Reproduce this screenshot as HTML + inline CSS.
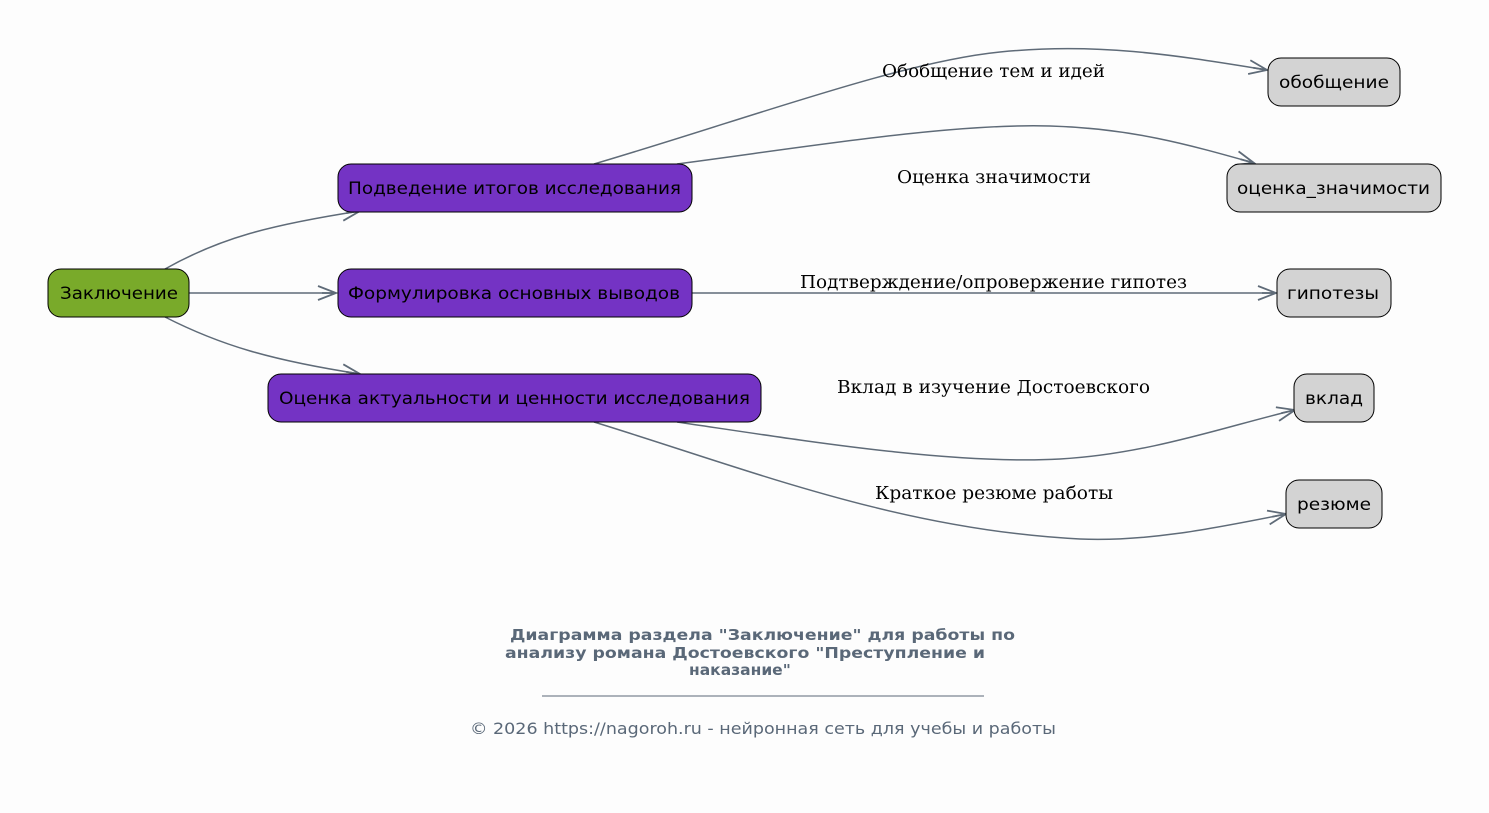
<!DOCTYPE html>
<html><head><meta charset="utf-8"><style>
html,body{margin:0;padding:0;background:#fdfdfd;}
svg{display:block;}
.n{font-family:"DejaVu Sans","Liberation Sans",sans-serif;font-size:17px;fill:#000;}
.e{font-family:"DejaVu Serif","Liberation Serif",serif;font-size:17.5px;fill:#000;}
.t{font-family:"DejaVu Sans","Liberation Sans",sans-serif;font-size:15.5px;font-weight:bold;fill:#5a6878;}
.f{font-family:"DejaVu Sans","Liberation Sans",sans-serif;font-size:16px;fill:#5a6878;}
path.c{fill:none;stroke:#5f6b78;stroke-width:1.5;}
</style></head><body>
<svg width="1489" height="813" viewBox="0 0 1489 813" xmlns="http://www.w3.org/2000/svg">
<defs>
<marker id="a" markerUnits="userSpaceOnUse" markerWidth="24" markerHeight="16" refX="20" refY="8" orient="auto">
<path d="M2,1 L20,8 L2,15 M20,8 L6,8" fill="none" stroke="#5f6b78" stroke-width="1.8"/>
</marker>
</defs>
<rect width="1489" height="813" fill="#fdfdfd"/>
<path class="c" marker-end="url(#a)" d="M165,269 C220,238 270,225 360,211"/>
<path class="c" marker-end="url(#a)" d="M189,293 L336,293"/>
<path class="c" marker-end="url(#a)" d="M165,317 C220,345 270,360 360,374"/>
<path class="c" marker-end="url(#a)" d="M594,164 C750,118 900,62 1000,52 C1100,42 1180,56 1267,70"/>
<path class="c" marker-end="url(#a)" d="M677,164 C800,148 950,123 1050,126 C1130,128 1190,145 1254,163"/>
<path class="c" marker-end="url(#a)" d="M692,293 L1276,293"/>
<path class="c" marker-end="url(#a)" d="M677,422 C800,440 950,465 1060,459 C1150,454 1230,425 1295,410"/>
<path class="c" marker-end="url(#a)" d="M594,422 C750,470 900,530 1080,539 C1150,542 1220,527 1286,514"/>
<rect x="48" y="269" width="141" height="48" rx="13" fill="#79aa2a" stroke="#000"/>
<text class="n" x="60" y="299" textLength="118" lengthAdjust="spacingAndGlyphs">Заключение</text>
<rect x="338" y="164" width="354" height="48" rx="13" fill="#7433c4" stroke="#000"/>
<text class="n" x="348" y="194" textLength="333" lengthAdjust="spacingAndGlyphs">Подведение итогов исследования</text>
<rect x="338" y="269" width="354" height="48" rx="13" fill="#7433c4" stroke="#000"/>
<text class="n" x="348" y="299" textLength="332" lengthAdjust="spacingAndGlyphs">Формулировка основных выводов</text>
<rect x="268" y="374" width="493" height="48" rx="13" fill="#7433c4" stroke="#000"/>
<text class="n" x="279" y="404" textLength="471" lengthAdjust="spacingAndGlyphs">Оценка актуальности и ценности исследования</text>
<rect x="1268" y="58" width="132" height="48" rx="13" fill="#d3d3d3" stroke="#000"/>
<text class="n" x="1279" y="88" textLength="110" lengthAdjust="spacingAndGlyphs">обобщение</text>
<rect x="1227" y="164" width="214" height="48" rx="13" fill="#d3d3d3" stroke="#000"/>
<text class="n" x="1237" y="194" textLength="193" lengthAdjust="spacingAndGlyphs">оценка_значимости</text>
<rect x="1277" y="269" width="114" height="48" rx="13" fill="#d3d3d3" stroke="#000"/>
<text class="n" x="1287" y="299" textLength="92" lengthAdjust="spacingAndGlyphs">гипотезы</text>
<rect x="1294" y="374" width="80" height="48" rx="13" fill="#d3d3d3" stroke="#000"/>
<text class="n" x="1305" y="404" textLength="58" lengthAdjust="spacingAndGlyphs">вклад</text>
<rect x="1286" y="480" width="96" height="48" rx="13" fill="#d3d3d3" stroke="#000"/>
<text class="n" x="1297" y="510" textLength="74" lengthAdjust="spacingAndGlyphs">резюме</text>
<text class="e" x="882" y="77" textLength="223" lengthAdjust="spacingAndGlyphs">Обобщение тем и идей</text>
<text class="e" x="897" y="183" textLength="194" lengthAdjust="spacingAndGlyphs">Оценка значимости</text>
<text class="e" x="800" y="288" textLength="387" lengthAdjust="spacingAndGlyphs">Подтверждение/опровержение гипотез</text>
<text class="e" x="837" y="393" textLength="313" lengthAdjust="spacingAndGlyphs">Вклад в изучение Достоевского</text>
<text class="e" x="875" y="499" textLength="238" lengthAdjust="spacingAndGlyphs">Краткое резюме работы</text>
<text class="t" x="510" y="640" textLength="505" lengthAdjust="spacingAndGlyphs">Диаграмма раздела "Заключение" для работы по</text>
<text class="t" x="505" y="658" textLength="480" lengthAdjust="spacingAndGlyphs">анализу романа Достоевского "Преступление и</text>
<text class="t" x="689" y="675">наказание"</text>
<line x1="542" y1="696" x2="984" y2="696" stroke="#5a6878" stroke-width="1"/>
<text class="f" x="470" y="734" textLength="586" lengthAdjust="spacingAndGlyphs">© 2026 https://nagoroh.ru - нейронная сеть для учебы и работы</text>
</svg>
</body></html>
